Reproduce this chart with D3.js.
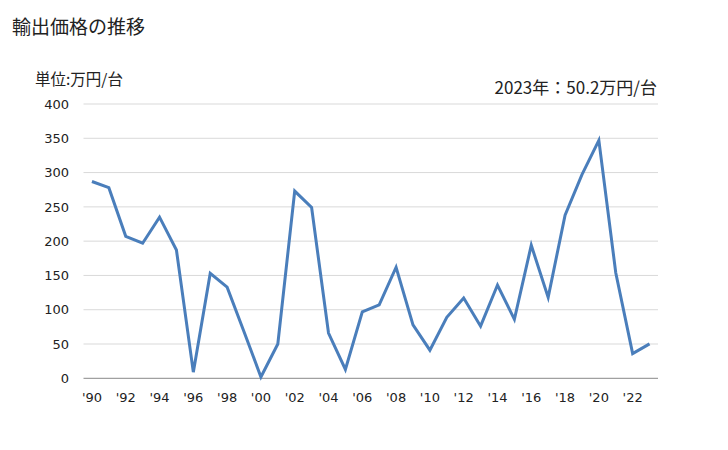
<!DOCTYPE html>
<html><head><meta charset="utf-8">
<script src="https://cdn.jsdelivr.net/npm/d3@7"></script>
<style>body{margin:0;background:#fff}svg{display:block}</style>
</head><body>
<svg id="c" width="728" height="450"></svg>
<script>
const years = d3.range(1990, 2024);
const values = [287, 278, 207, 197, 235, 187, 9, 153, 133, 68, 2, 50, 273, 249, 66, 13, 97, 107, 162, 78, 41, 89, 117, 76, 136, 86, 194, 118, 238, 297, 347, 154, 36, 50.2];
const yTicks = [0, 50, 100, 150, 200, 250, 300, 350, 400];
const xTickYears = d3.range(1990, 2024, 2);
const xTickLabels = xTickYears.map(y => "'" + String(y % 100).padStart(2, "0"));

(function () {
const svg = d3.select("#c");
const font = "'DejaVu Sans','Noto Sans CJK JP',sans-serif";
const jp = "'Noto Sans CJK JP','DejaVu Sans',sans-serif";
const pLeft = 83.5, pRight = 658, pTop = 104, pBottom = 378.3;

const x = d3.scalePoint().domain(years).range([pLeft, pRight]).padding(0.5);
const y = d3.scaleLinear().domain([0, 400]).range([pBottom, pTop]);

svg.append("g").selectAll("line").data(yTicks.filter(d => d > 0)).join("line")
  .attr("x1", pLeft).attr("x2", pRight)
  .attr("y1", d => y(d)).attr("y2", d => y(d))
  .attr("stroke", "#d9d9d9").attr("stroke-width", 1);
svg.append("line").attr("x1", pLeft).attr("x2", pRight).attr("y1", y(0)).attr("y2", y(0))
  .attr("stroke", "#898989").attr("stroke-width", 1);

svg.append("g").selectAll("text").data(yTicks).join("text")
  .attr("x", 69).attr("y", d => y(d)).attr("dy", "0.36em")
  .attr("text-anchor", "end").attr("font-family", font).attr("font-size", 13)
  .attr("fill", "#222").text(d => d);

svg.append("g").selectAll("text").data(xTickYears).join("text")
  .attr("x", d => x(d)).attr("y", 402)
  .attr("text-anchor", "middle").attr("font-family", font).attr("font-size", 13)
  .attr("fill", "#222").text((d, i) => xTickLabels[i]);

const line = d3.line().x((d, i) => x(years[i])).y(d => y(d));
svg.append("path").datum(values).attr("d", line)
  .attr("fill", "none").attr("stroke", "#4a7ebb").attr("stroke-width", 3)
  .attr("stroke-linejoin", "miter");

svg.append("text").attr("x", 12).attr("y", 34).attr("font-family", jp)
  .attr("font-size", 19).attr("fill", "#222").text("輸出価格の推移");
svg.append("text").attr("x", 35).attr("y", 85).attr("font-family", jp)
  .attr("font-size", 15.5).attr("fill", "#222").text("単位:万円/台");
svg.append("text").attr("x", 657).attr("y", 94).attr("text-anchor", "end").attr("font-family", jp)
  .attr("font-size", 17).attr("fill", "#222").text("2023年：50.2万円/台");
})();
</script>
</body></html>
